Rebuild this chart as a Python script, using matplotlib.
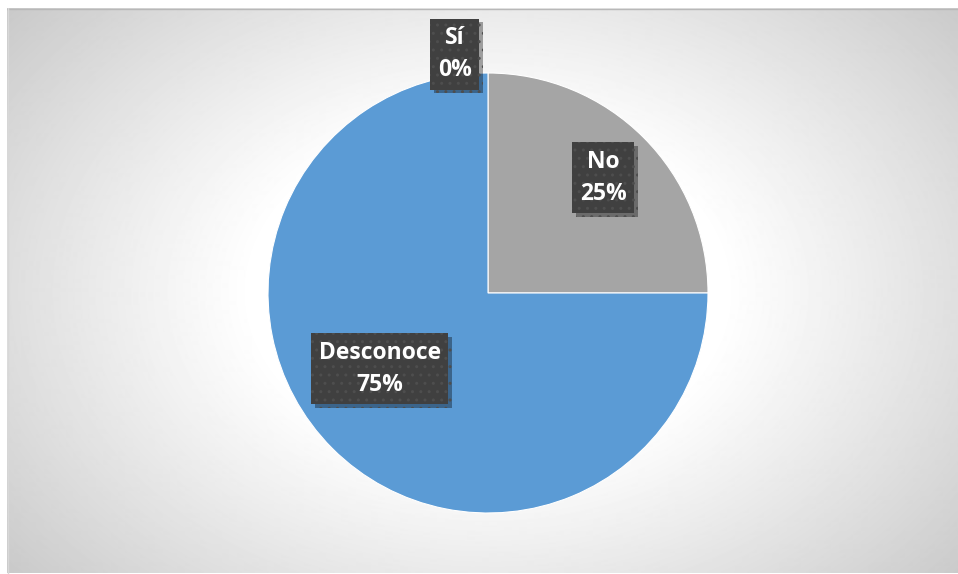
import numpy as np
import matplotlib
matplotlib.use("Agg")
import matplotlib.pyplot as plt
from matplotlib import patheffects as pe

W, H = 958, 574

categories = ["Sí", "No", "Desconoce"]
shares = [0, 25, 75]
pct_labels = ["0%", "25%", "75%"]

COLORS = ["#ED7D31", "#A5A5A5", "#5B9BD5"]
BOX = "#404040"

# label placement tweaks per slice: (radius factor, angle shift deg, dx px)
LABEL_POS = [(1.085, 0, -33), (0.74, 0, 0), (0.60, -10, 0)]

plt.rcParams["font.family"] = ["Open Sans", "DejaVu Sans"]

fig = plt.figure(figsize=(W / 100, H / 100), dpi=100)
fig.patch.set_facecolor("white")

# radial gradient background of the chart area
x0, y0 = 7, 8
bg = fig.add_axes([x0 / W, 0, (W - x0) / W, (H - y0) / H])
bg.axis("off")
cx, cy = 488 - x0, 293 - y0
yy, xx = np.mgrid[0:H - y0, 0:W - x0]
d = np.sqrt(((xx - cx) / 560.0) ** 2 + ((yy - cy) / 400.0) ** 2)
v = 1.0 - 0.23 * np.clip((d - 0.42) / 0.75, 0, 1) ** 1.05
bg.imshow(v, cmap="gray", vmin=0, vmax=1, aspect="auto",
          interpolation="bilinear")
bg.plot([0, W - x0], [0.5, 0.5], color="#b8b8b8", lw=1)
bg.plot([0.5, 0.5], [0, H - y0], color="#d8d8d8", lw=1)
bg.set_xlim(0, W - x0)
bg.set_ylim(H - y0, 0)

ax = fig.add_axes([0, 0, 1, 1])
ax.set_aspect("equal")
ax.axis("off")

center = (488, H - 293)
radius = 220
wedges, _ = ax.pie(shares, colors=COLORS, startangle=90, counterclock=False,
                   center=center, radius=radius, frame=False,
                   wedgeprops=dict(edgecolor="white", linewidth=0.8))
ax.set_xlim(0, W)
ax.set_ylim(0, H)

for w, cat, pct, (rf, dang, dx) in zip(wedges, categories, pct_labels,
                                        LABEL_POS):
    ang = np.deg2rad((w.theta1 + w.theta2) / 2 + dang)
    lx = center[0] + rf * radius * np.cos(ang) + dx
    ly = center[1] + rf * radius * np.sin(ang)
    t = ax.text(lx, ly, f"{cat}\n{pct}", ha="center", va="center",
                color="white", fontsize=16.5, fontweight="bold",
                linespacing=1.45,
                bbox=dict(boxstyle="square,pad=0.33", facecolor=BOX,
                          edgecolor="#4e4e4e", linewidth=0, hatch=".."))
    t.get_bbox_patch().set_path_effects([
        pe.SimplePatchShadow(offset=(2.5, -2.5), shadow_rgbFace="black",
                             alpha=0.35),
        pe.Normal()])

fig.savefig("out.png", dpi=100)
